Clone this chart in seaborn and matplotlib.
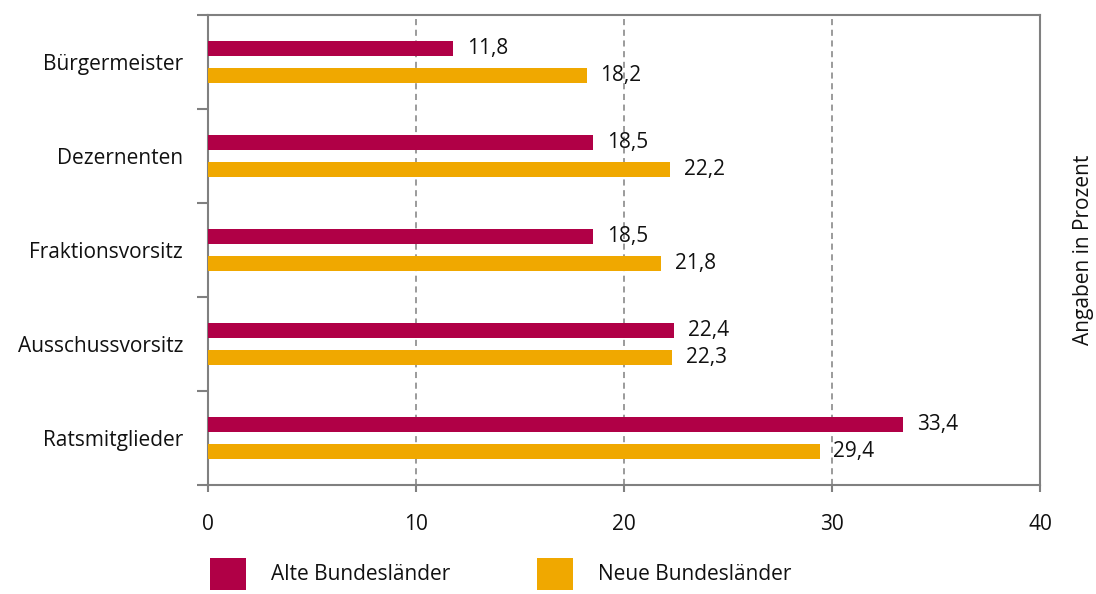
import matplotlib
matplotlib.use("Agg")
import matplotlib.pyplot as plt
from matplotlib.patches import Patch
from matplotlib.ticker import FixedLocator
import seaborn as sns
import pandas as pd

# Frauenanteile in kommunalen Ämtern (Prozent)
positionen = ["Bürgermeister", "Dezernenten", "Fraktionsvorsitz",
              "Ausschussvorsitz", "Ratsmitglieder"]
alte_laender = [11.8, 18.5, 18.5, 22.4, 33.4]
neue_laender = [18.2, 22.2, 21.8, 22.3, 29.4]
gruppen = ["Alte Bundesländer", "Neue Bundesländer"]
farben = ["#B00046", "#F0A800"]
x_ticks = [0, 10, 20, 30, 40]

df = pd.DataFrame({
    "Position": positionen * 2,
    "Wert": alte_laender + neue_laender,
    "Gruppe": [gruppen[0]] * len(positionen) + [gruppen[1]] * len(positionen),
})

sns.set_theme(style="white")
plt.rcParams["font.family"] = ["Open Sans", "DejaVu Sans"]
plt.rcParams["text.color"] = "#111111"

fs = 15

fig = plt.figure(figsize=(10.96, 5.94), dpi=100)
ax = fig.add_axes([208 / 1096, 1 - 485 / 594, (1040 - 208) / 1096, 470 / 594])

sns.barplot(data=df, y="Position", x="Wert", hue="Gruppe", order=positionen,
            hue_order=gruppen, palette=farben, orient="h", width=0.56,
            gap=0.43, saturation=1, legend=False, linewidth=0, ax=ax, zorder=3)

# Wertebeschriftungen mit Dezimalkomma
for cont, werte in zip(ax.containers, [alte_laender, neue_laender]):
    ax.bar_label(cont, labels=[f"{v:.1f}".replace(".", ",") for v in werte],
                 padding=10, fontsize=fs, color="#111111")

ax.set_xlim(0, 40)
ax.set_ylim(len(positionen) - 0.5, -0.5)
ax.set_xticks(x_ticks)
ax.set_xticklabels([str(t) for t in x_ticks])
ax.set_xlabel("")
ax.set_ylabel("Angaben in Prozent", fontsize=fs, labelpad=24, color="#111111")
ax.yaxis.set_label_position("right")

# Gestrichelte Gitterlinien
for t in x_ticks[1:-1]:
    ax.axvline(t, color="#808080", linestyle=(0, (4, 3)), linewidth=1.1, zorder=1)

for side in ["left", "right", "top", "bottom"]:
    ax.spines[side].set_visible(True)
    ax.spines[side].set_color("#808080")
    ax.spines[side].set_linewidth(1.5)

# Kategorie-Trennstriche als Nebenticks
ax.yaxis.set_minor_locator(FixedLocator([i - 0.5 for i in range(len(positionen) + 1)]))
ax.tick_params(axis="y", which="minor", left=True, length=8, width=1.5, color="#808080")
ax.tick_params(axis="y", which="major", left=False, length=0, pad=18, labelsize=fs,
               labelcolor="#111111")
ax.tick_params(axis="x", which="major", bottom=True, direction="out", length=5,
               width=1.5, color="#808080", pad=16, labelsize=fs, labelcolor="#111111")

handles = [Patch(facecolor=c, edgecolor="none") for c in farben]
fig.legend(handles, gruppen, loc="lower left", bbox_to_anchor=(206 / 1096, 0.0),
           ncol=2, frameon=False, fontsize=fs, handlelength=1.7, handleheight=2.0,
           handletextpad=1.2, columnspacing=4.2, borderaxespad=0.1, borderpad=0.1)

fig.savefig("out.png", dpi=100, facecolor="white")
